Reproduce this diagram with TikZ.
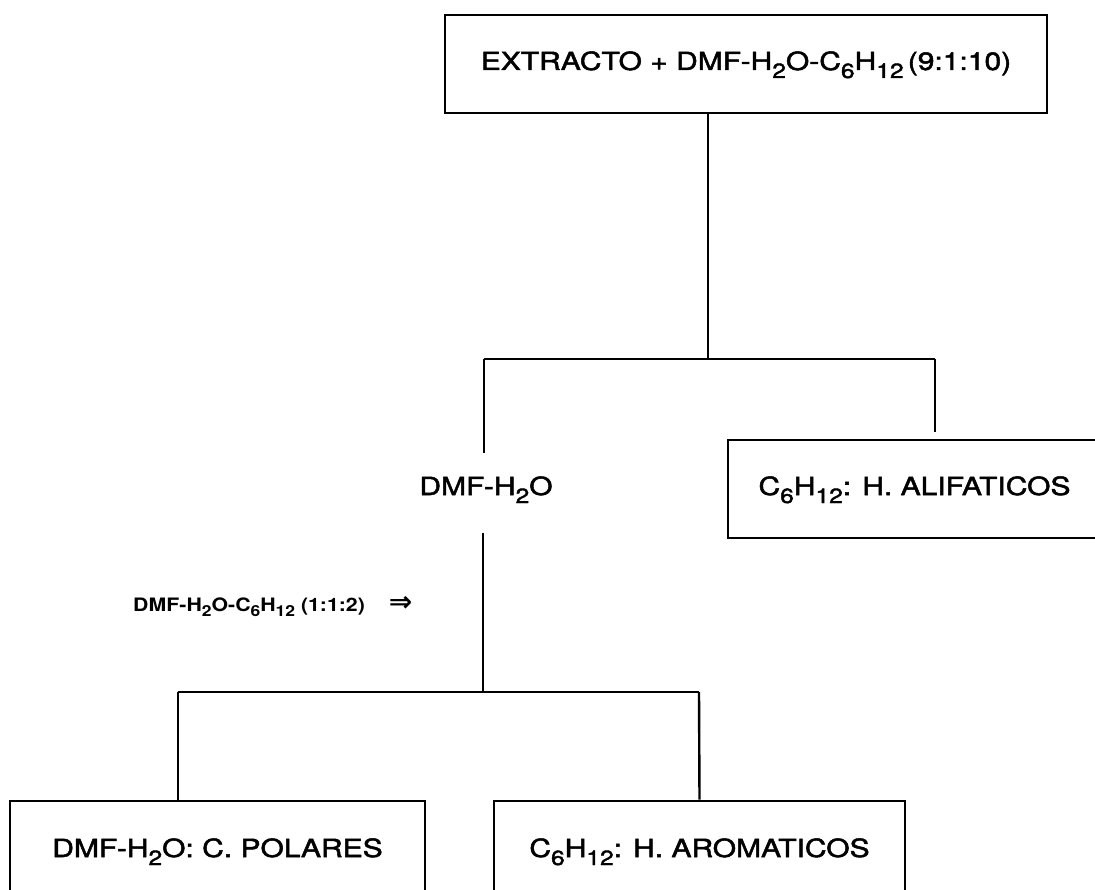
\documentclass[tikz,border=0pt]{standalone}
\usepackage{fontspec}
\usepackage{graphicx}
\setmainfont{TeX Gyre Heros}[FakeStretch=1.2, FakeBold=2]
\newfontfamily\lblfont{TeX Gyre Heros Bold}[FakeStretch=1.15]
\newfontfamily\arrowfont{DejaVu Sans Bold}
\newcommand\chsub[1]{\raisebox{-0.32em}{\scalebox{0.82}{#1}}}
\tikzset{
  box/.style={draw, line width=2.6pt, inner sep=0pt, text height=18pt, text depth=6pt,
    font=\fontsize{25}{28}\selectfont},
  plainlbl/.style={inner sep=0pt, text height=18pt, text depth=6pt,
    font=\fontsize{25}{28}\selectfont},
  smalllbl/.style={inner sep=0pt, anchor=base west, font=\lblfont\fontsize{18.5}{21}\selectfont},
  conn/.style={line width=2.4pt},
}
\begin{document}
\begin{tikzpicture}[x=1pt,y=-1pt]
\useasboundingbox (0,0) rectangle (1095,890);
\clip (0,0) rectangle (1095,890);
% boxes
\node[box, minimum width=602pt, minimum height=98pt] (top) at (746,64)
  {EXTRACTO + DMF-H\chsub{2}O-C\chsub{6}H\chsub{12}\,(9:1:10)};
\node[box, minimum width=373pt, minimum height=98pt] (alif) at (914.5,489)
  {C\chsub{6}H\chsub{12}: H. ALIFATICOS};
\node[plainlbl] (dmf) at (486,489) {DMF-H\chsub{2}O};
\node[box, minimum width=415pt, minimum height=100pt] (pol) at (217.5,851)
  {DMF-H\chsub{2}O: C. POLARES};
\node[box, minimum width=411pt, minimum height=100pt] (arom) at (699.5,851)
  {C\chsub{6}H\chsub{12}: H. AROMATICOS};
\node[smalllbl] (mix) at (133,611)
  {DMF-H\chsub{2}O-C\chsub{6}H\chsub{12} (1:1:2)\hspace{1.3em}{\arrowfont\fontsize{28}{28}\selectfont ⇒}};
% junction coordinates
\coordinate (j1) at (708,359);
\coordinate (l1) at (484,359);
\coordinate (r1) at (935,359);
\coordinate (l1end) at (484,453);
\coordinate (r1end) at (935,432);
\coordinate (d1) at (483,533);
\coordinate (j2) at (483,692);
\coordinate (l2) at (178,692);
\coordinate (r2) at (699,692);
% connectors
\draw[conn] (top.south -| j1) -- (j1);
\draw[conn] (l1) -- (r1);
\draw[conn] (l1) -- (l1end);
\draw[conn] (r1) -- (r1end);
\draw[conn] (d1) -- (j2);
\draw[conn] (l2) -- (r2);
\draw[conn] (l2) -- (pol.north -| l2);
\draw[conn] (r2) -- (arom.north);
\end{tikzpicture}
\end{document}
